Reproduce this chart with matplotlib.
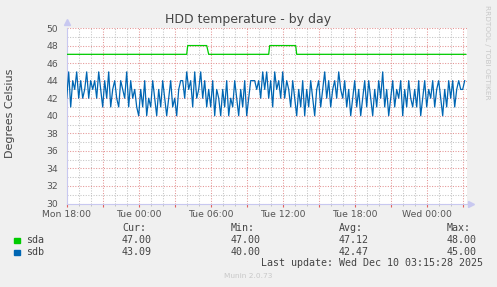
import matplotlib
matplotlib.use("Agg")
import matplotlib.pyplot as plt
import matplotlib.dates as mdates
import pandas as pd

# --- data ---
start = "2025-12-08 18:00"
step = "10min"

# sdb, one value every 10 minutes, one row per hour
sdb = [
    42, 45, 41, 44, 43, 45,
    42, 44, 42, 43, 45, 42,
    44, 43, 44, 42, 45, 43,
    41, 44, 42, 45, 41, 43,
    44, 42, 41, 44, 43, 42,
    45, 41, 44, 42, 43, 41,
    40, 43, 41, 44, 40, 42,
    41, 44, 42, 40, 43, 41,
    44, 42, 40, 42, 44, 41,
    42, 40, 43, 44, 44, 42,
    45, 43, 44, 41, 45, 42,
    43, 45, 42, 44, 41, 43,
    41, 44, 40, 43, 42, 40,
    43, 41, 44, 40, 42, 41,
    44, 42, 40, 43, 41, 44,
    40, 42, 44, 44, 44, 43,
    44, 42, 45, 43, 45, 42,
    44, 41, 45, 43, 44, 42,
    45, 42, 44, 43, 41, 44,
    42, 40, 43, 41, 44, 40,
    43, 41, 44, 42, 40, 43,
    44, 41, 43, 45, 42, 44,
    41, 43, 44, 42, 45, 43,
    42, 44, 41, 43, 40, 42,
    44, 41, 43, 40, 42, 44,
    41, 44, 42, 40, 43, 41,
    44, 42, 45, 41, 43, 40,
    42, 44, 41, 43, 42, 44,
    40, 43, 41, 44, 42, 41,
    43, 41, 44, 40, 42, 44,
    41, 43, 42, 44, 41, 43,
    44, 42, 40, 43, 41, 44,
    42, 44, 41, 43, 44, 43,
    43, 44,
]

# sda is flat at 47 with two short bumps to 48
sda_times = ["2025-12-08 18:00", "2025-12-09 04:00", "2025-12-09 04:05",
             "2025-12-09 05:40", "2025-12-09 05:50", "2025-12-09 10:50",
             "2025-12-09 10:55", "2025-12-09 13:05", "2025-12-09 13:10",
             "2025-12-10 03:15"]
sda = [47, 47, 48, 48, 47, 47, 48, 48, 47, 47]

series_names = ["sda", "sdb"]
series_colors = ["#00CC00", "#0066B3"]
stat_headers = ["Cur:", "Min:", "Avg:", "Max:"]
stats = {
    "sda": ["47.00", "47.00", "47.12", "48.00"],
    "sdb": ["43.09", "40.00", "42.47", "45.00"],
}
last_update = "Last update: Wed Dec 10 03:15:28 2025"

W, H = 497, 287
fig = plt.figure(figsize=(W / 100, H / 100), dpi=100, facecolor="#F0F0F0")
ax = fig.add_axes([66.7 / W, 1 - 203.5 / H, 400 / W, 175.5 / H])
ax.set_facecolor("white")

sdb_t = pd.date_range(start, periods=len(sdb), freq=step)
ax.plot(pd.to_datetime(sda_times), sda, color=series_colors[0], lw=0.9, zorder=3)
ax.plot(sdb_t, sdb, color=series_colors[1], lw=0.9, zorder=3)

x0 = pd.Timestamp(start)
ax.set_xlim(x0, x0 + pd.Timedelta(minutes=2000))
ax.set_ylim(30, 50)

# ticks & grid
ax.xaxis.set_major_locator(mdates.HourLocator(byhour=range(0, 24, 3)))
ax.xaxis.set_minor_locator(mdates.HourLocator())


def fmt(x, pos):
    d = mdates.num2date(x)
    return d.strftime("%a %H:%M") if d.hour % 6 == 0 else ""


ax.xaxis.set_major_formatter(plt.FuncFormatter(fmt))
ax.set_yticks(range(30, 51, 2))
ax.set_yticks(range(31, 51, 2), minor=True)

ax.grid(which="major", color="#E49494", ls=(0, (1, 1.5)), lw=0.75)
ax.grid(which="minor", color="#C4C4C4", ls=(0, (1, 1.5)), lw=0.75)
ax.set_axisbelow(True)

ax.tick_params(axis="x", which="major", colors="#E06060", length=2.5, width=0.8,
               labelcolor="#555555", labelsize=6.7, pad=2)
ax.tick_params(axis="x", which="minor", colors="#BBBBBB", length=1.5, width=0.6)
ax.tick_params(axis="y", which="both", length=0, labelcolor="#555555",
               labelsize=6.7, pad=6)

for s in ["top", "right"]:
    ax.spines[s].set_visible(False)
for s in ["left", "bottom"]:
    ax.spines[s].set_color("#C8C8F0")
    ax.spines[s].set_linewidth(0.8)

# arrow heads on axes
ax.plot([0], [1.035], marker="^", ms=4, color="#C8C8F0", transform=ax.transAxes, clip_on=False)
ax.plot([1.01], [0], marker=">", ms=4, color="#C8C8F0", transform=ax.transAxes, clip_on=False)

fig.text(248 / W, 1 - 20 / H, "HDD temperature - by day", ha="center", va="center",
         fontsize=9, color="#444444")
fig.text(10 / W, 1 - 113 / H, "Degrees Celsius", rotation=90, ha="center", va="center",
         fontsize=8, color="#444444")
fig.text(487 / W, 1 - 52 / H, "RRDTOOL / TOBI OETIKER", rotation=270, ha="center",
         va="center", fontsize=5.3, color="#C8C8C8")

# legend block
mono = dict(family="DejaVu Sans Mono", fontsize=7.2, color="#444444", va="center")
cols = [122, 231, 339, 447]
for hdr, cx in zip(stat_headers, cols):
    fig.text(cx / W, 1 - 228 / H, hdr, **mono)
for i, (name, col) in enumerate(zip(series_names, series_colors)):
    y = 240 + 12 * i
    fig.patches.append(plt.Rectangle((14 / W, 1 - (y + 3) / H), 5.5 / W, 5.5 / H,
                                     color=col, transform=fig.transFigure, figure=fig))
    fig.text(26 / W, 1 - y / H, name, **mono)
    for v, cx in zip(stats[name], cols):
        fig.text(cx / W, 1 - y / H, v, **mono)
fig.text(483 / W, 1 - 263.5 / H, last_update, ha="right", **mono)
fig.text(248 / W, 1 - 276 / H, "Munin 2.0.73", ha="center", va="center",
         fontsize=5.3, color="#C8C8C8")

fig.savefig("out.png", dpi=100, facecolor=fig.get_facecolor())
